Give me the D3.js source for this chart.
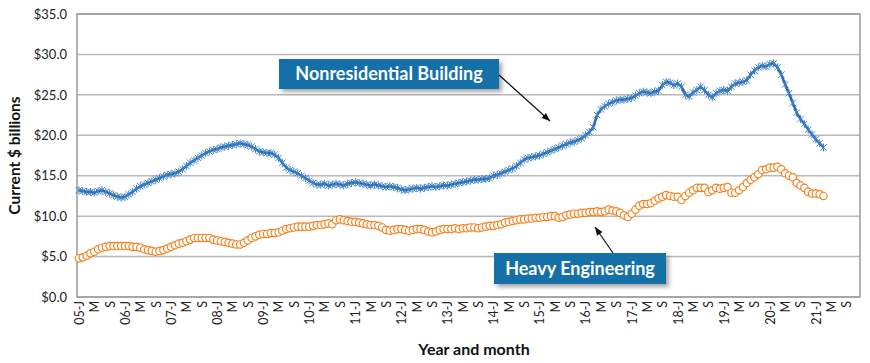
<!DOCTYPE html>
<html>
<head>
<meta charset="utf-8">
<script src="https://cdn.jsdelivr.net/npm/d3@7"></script>
<style>
  body { margin: 0; background: #fff; }
  text { font-family: "Lato", "DejaVu Sans", sans-serif; }
</style>
</head>
<body>
<main></main>
<script>
// monthly values, Jan 2005 .. Mar 2021 (current $ billions)
const nonresidential = [
  13.2, 13.1, 13.0, 13.0, 12.9, 13.1, 13.2, 13.0, 12.8, 12.6, 12.4, 12.3,
  12.4, 12.7, 13.0, 13.4, 13.7, 13.9, 14.1, 14.3, 14.5, 14.7, 14.9, 15.1,
  15.2, 15.3, 15.5, 15.8, 16.2, 16.6, 16.9, 17.2, 17.5, 17.8, 18.0, 18.2,
  18.3, 18.5, 18.6, 18.7, 18.8, 18.9, 19.0, 18.9, 18.8, 18.6, 18.3, 18.0,
  17.9, 17.8, 17.8, 17.6, 17.2, 16.6, 16.0, 15.7, 15.5, 15.3, 15.0, 14.7,
  14.4, 14.1, 13.9, 13.9, 14.0, 13.8, 13.9, 14.0, 13.9, 13.8, 14.0, 14.1,
  14.2, 14.1, 14.0, 13.9, 13.8, 13.9, 13.8, 13.7, 13.6, 13.7, 13.6, 13.5,
  13.3, 13.2, 13.3, 13.4, 13.5, 13.4, 13.5, 13.6, 13.7, 13.6, 13.7, 13.8,
  13.8, 13.9, 14.0, 14.1, 14.2, 14.3, 14.4, 14.5, 14.5, 14.6, 14.6, 14.7,
  15.0, 15.1, 15.3, 15.5, 15.7, 15.9, 16.2, 16.6, 17.0, 17.2, 17.3, 17.4,
  17.5, 17.7, 17.9, 18.1, 18.3, 18.5, 18.7, 18.9, 19.1, 19.2, 19.4, 19.6,
  20.0, 20.4, 21.0, 22.5, 23.2, 23.6, 23.9, 24.1, 24.3, 24.4, 24.4, 24.5,
  24.6, 24.9, 25.2, 25.4, 25.3, 25.2, 25.4, 25.5, 26.2, 26.6, 26.5, 26.2,
  26.4, 26.0, 25.0, 24.8, 25.3, 25.6, 26.0, 25.6, 25.0, 24.7, 25.2, 25.5,
  25.6, 25.5, 26.0, 26.4, 26.5, 26.6, 26.8, 27.5, 28.0, 28.4, 28.6, 28.5,
  28.8, 28.9, 28.4, 27.5, 26.3, 25.2, 24.0, 22.8, 22.0, 21.4, 20.7, 20.1,
  19.5, 19.0, 18.5
];

const heavyEngineering = [
  4.8, 4.9, 5.1, 5.4, 5.6, 5.9, 6.1, 6.2, 6.3, 6.3, 6.3, 6.3,
  6.3, 6.3, 6.2, 6.2, 6.1, 5.9, 5.8, 5.7, 5.6, 5.7, 5.8, 6.0,
  6.2, 6.4, 6.6, 6.7, 6.9, 7.1, 7.3, 7.3, 7.3, 7.3, 7.3, 7.1,
  7.0, 6.9, 6.8, 6.7, 6.6, 6.5, 6.5, 6.7, 7.0, 7.3, 7.5, 7.7,
  7.8, 7.8, 7.9, 7.9, 8.0, 8.2, 8.4, 8.5, 8.6, 8.7, 8.7, 8.7,
  8.7, 8.8, 8.9, 8.9, 9.0, 9.1, 9.0, 9.5, 9.6, 9.5, 9.4, 9.3,
  9.3, 9.2, 9.1, 9.0, 8.9, 8.9, 8.8, 8.6, 8.3, 8.2, 8.3, 8.4,
  8.4, 8.3, 8.2, 8.3, 8.4, 8.4, 8.3, 8.1, 8.0, 8.1, 8.3, 8.4,
  8.4, 8.4, 8.5, 8.4, 8.5, 8.5, 8.6, 8.6, 8.5, 8.6, 8.7, 8.8,
  8.8, 8.9, 9.0, 9.2, 9.3, 9.4, 9.5, 9.6, 9.6, 9.7, 9.7, 9.8,
  9.8, 9.9, 9.9, 10.0, 10.0, 9.8, 9.9, 10.1, 10.2, 10.3, 10.3, 10.4,
  10.4, 10.5, 10.5, 10.6, 10.5, 10.6, 10.8, 10.7, 10.6, 10.4, 10.1, 9.9,
  10.3, 10.8, 11.3, 11.5, 11.5, 11.6, 11.9, 12.2, 12.4, 12.6, 12.5, 12.4,
  12.4, 12.0, 12.5, 12.9, 13.2, 13.5, 13.5, 13.5, 13.0, 13.2, 13.5, 13.4,
  13.5, 13.6, 12.9, 12.9, 13.2, 13.6, 14.1, 14.5, 14.8, 15.2, 15.7, 15.8,
  16.0, 16.0, 16.1, 15.8, 15.3, 15.0, 14.8, 14.1, 13.8, 13.5, 13.0, 12.8,
  12.8, 12.7, 12.5
];

// category axis runs Jan 2005 .. Dec 2021
const firstYear = 2005;
const lastYear = 2021;
const monthLetters = ["J", "F", "M", "A", "M", "J", "J", "A", "S", "O", "N", "D"];
const yTicks = [0, 5, 10, 15, 20, 25, 30, 35];

const categories = [];
for (let y = firstYear; y <= lastYear; y++) {
  for (let m = 0; m < 12; m++) categories.push({ year: y, month: m, key: y + "-" + m });
}

const W = 870, H = 363;
const margin = { top: 14, right: 10, bottom: 66, left: 77 };
const width = W - margin.left - margin.right;
const height = H - margin.top - margin.bottom;

const svg = d3.select("main").append("svg")
  .attr("width", W)
  .attr("height", H);

const defs = svg.append("defs");
const shadow = defs.append("filter").attr("id", "shadow")
  .attr("x", "-10%").attr("y", "-30%").attr("width", "130%").attr("height", "180%");
shadow.append("feDropShadow")
  .attr("dx", 3).attr("dy", 3).attr("stdDeviation", 2)
  .attr("flood-color", "#000").attr("flood-opacity", 0.35);

const xScale = d3.scalePoint()
  .domain(categories.map((d) => d.key))
  .range([0, width])
  .padding(0.5);

const yScale = d3.scaleLinear().domain([0, 35]).range([height, 0]);

const g = svg.append("g").attr("transform", `translate(${margin.left},${margin.top})`);

// gridlines
g.append("g")
  .selectAll("line")
  .data(yTicks)
  .enter()
  .append("line")
  .attr("x1", 0)
  .attr("x2", width)
  .attr("y1", (d) => yScale(d))
  .attr("y2", (d) => yScale(d))
  .attr("stroke", "#b8b8b8")
  .attr("stroke-width", 1.5);

// plot border
g.append("rect")
  .attr("width", width)
  .attr("height", height)
  .attr("fill", "none")
  .attr("stroke", "#9a9a9a")
  .attr("stroke-width", 1.5);

// y axis
const yAxis = d3.axisLeft(yScale)
  .tickValues(yTicks)
  .tickSize(0)
  .tickPadding(10)
  .tickFormat((d) => "$" + d3.format(".1f")(d));
g.append("g").call(yAxis)
  .call((s) => s.select(".domain").remove())
  .selectAll("text")
  .attr("font-size", 13)
  .attr("fill", "#222");

// x axis: label every 4th month
const xAxis = d3.axisBottom(xScale)
  .tickValues(categories.filter((d) => d.month % 4 === 0).map((d) => d.key))
  .tickSize(0)
  .tickFormat((k) => {
    const c = categories.find((d) => d.key === k);
    return c.month === 0 ? String(c.year).slice(2) + "-J" : monthLetters[c.month];
  });
g.append("g")
  .attr("transform", `translate(0,${height})`)
  .call(xAxis)
  .call((s) => s.select(".domain").remove())
  .selectAll("text")
  .attr("font-size", 12.5)
  .attr("fill", "#222")
  .attr("text-anchor", "end")
  .attr("dy", "0.35em")
  .attr("transform", "translate(0,4) rotate(-90)")
  .attr("x", 0)
  .attr("y", 0);

// axis titles
svg.append("text")
  .attr("transform", `translate(20,${margin.top + height / 2}) rotate(-90)`)
  .attr("text-anchor", "middle")
  .attr("font-size", 15.5)
  .attr("font-weight", "bold")
  .attr("fill", "#111")
  .text("Current $ billions");

svg.append("text")
  .attr("x", 474)
  .attr("y", 355)
  .attr("text-anchor", "middle")
  .attr("font-size", 16)
  .attr("font-weight", "bold")
  .attr("fill", "#111")
  .text("Year and month");

// series
const nonresData = nonresidential.map((v, i) => ({ key: categories[i].key, value: v }));
const heavyData = heavyEngineering.map((v, i) => ({ key: categories[i].key, value: v }));

const line = d3.line()
  .x((d) => xScale(d.key))
  .y((d) => yScale(d.value));

// heavy engineering: hollow orange circles
g.append("path")
  .datum(heavyData)
  .attr("d", line)
  .attr("fill", "none")
  .attr("stroke", "#f58220")
  .attr("stroke-width", 1.5);
g.append("g")
  .selectAll("circle")
  .data(heavyData)
  .enter()
  .append("circle")
  .attr("cx", (d) => xScale(d.key))
  .attr("cy", (d) => yScale(d.value))
  .attr("r", 3.7)
  .attr("fill", "#fff")
  .attr("stroke", "#f58220")
  .attr("stroke-width", 1.2);

// nonresidential: blue line with star markers
g.append("path")
  .datum(nonresData)
  .attr("d", line)
  .attr("fill", "none")
  .attr("stroke", "#2a68a8")
  .attr("stroke-width", 2.5);
const star = "M-3.2,-3.2L3.2,3.2M-3.2,3.2L3.2,-3.2M0,-4L0,4";
g.append("g")
  .selectAll("path")
  .data(nonresData)
  .enter()
  .append("path")
  .attr("transform", (d) => `translate(${xScale(d.key)},${yScale(d.value)})`)
  .attr("d", star)
  .attr("fill", "none")
  .attr("stroke", "#3f82c8")
  .attr("stroke-width", 1);

// callouts
function callout(x, y, w, h, label, from, to) {
  svg.append("line")
    .attr("x1", from[0]).attr("y1", from[1])
    .attr("x2", to[0]).attr("y2", to[1])
    .attr("stroke", "#111")
    .attr("stroke-width", 1.2);
  const ang = Math.atan2(to[1] - from[1], to[0] - from[0]);
  const len = 9, spread = 0.38;
  svg.append("path")
    .attr("d", `M${to[0]},${to[1]}L${to[0] - len * Math.cos(ang - spread)},${to[1] - len * Math.sin(ang - spread)}L${to[0] - len * Math.cos(ang + spread)},${to[1] - len * Math.sin(ang + spread)}Z`)
    .attr("fill", "#111");
  svg.append("rect")
    .attr("x", x).attr("y", y)
    .attr("width", w).attr("height", h)
    .attr("fill", "#1470a8")
    .attr("filter", "url(#shadow)");
  svg.append("text")
    .attr("x", x + w / 2)
    .attr("y", y + h / 2)
    .attr("dy", "0.36em")
    .attr("text-anchor", "middle")
    .attr("font-size", 18)
    .attr("font-weight", "bold")
    .attr("fill", "#fff")
    .text(label);
}

callout(279, 59, 220, 30, "Nonresidential Building", [499, 75], [550, 121]);
callout(494, 253, 172, 31, "Heavy Engineering", [613, 253], [595, 227]);
</script>
</body>
</html>
